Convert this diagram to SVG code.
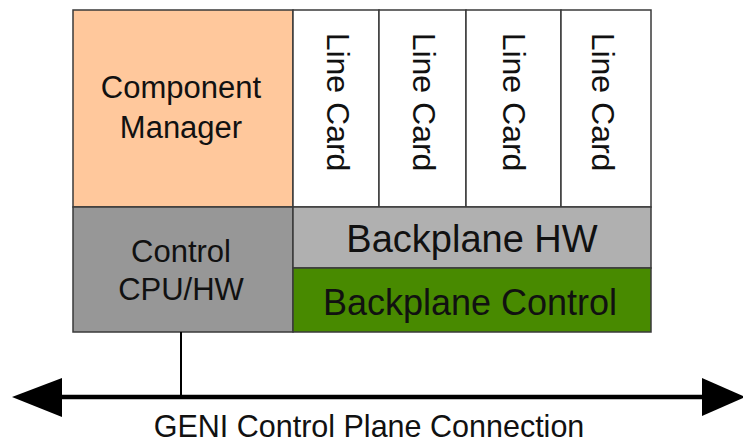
<svg xmlns="http://www.w3.org/2000/svg" width="743" height="445" viewBox="0 0 743 445">
  <style>
    .box { stroke: #3a3a3a; stroke-width: 1.5; }
    .t { font-family: "Liberation Sans", Arial, sans-serif; fill: #111; text-anchor: middle; }
    .lc { font-size: 32px; }
    .conn { stroke: #000; fill: none; }
  </style>
  <rect width="743" height="445" fill="#ffffff"/>
  <g id="component-manager">
    <rect class="box" x="73" y="10" width="220" height="197" fill="#ffc89c"/>
    <text class="t" x="181" y="98" font-size="31">Component</text>
    <text class="t" x="181" y="138" font-size="31">Manager</text>
  </g>
  <g id="line-card-1">
    <rect class="box" x="293" y="10" width="86" height="197" fill="#ffffff"/>
    <text class="t lc" transform="translate(327,102) rotate(90)">Line Card</text>
  </g>
  <g id="line-card-2">
    <rect class="box" x="379" y="10" width="87" height="197" fill="#ffffff"/>
    <text class="t lc" transform="translate(413,102) rotate(90)">Line Card</text>
  </g>
  <g id="line-card-3">
    <rect class="box" x="466" y="10" width="95" height="197" fill="#ffffff"/>
    <text class="t lc" transform="translate(503,102) rotate(90)">Line Card</text>
  </g>
  <g id="line-card-4">
    <rect class="box" x="561" y="10" width="90" height="197" fill="#ffffff"/>
    <text class="t lc" transform="translate(592,102) rotate(90)">Line Card</text>
  </g>
  <g id="control-cpu-hw">
    <rect class="box" x="73" y="207" width="220" height="125" fill="#979797"/>
    <text class="t" x="181" y="262" font-size="31">Control</text>
    <text class="t" x="181" y="300" font-size="31">CPU/HW</text>
  </g>
  <g id="backplane-hw">
    <rect class="box" x="293" y="207" width="358" height="61" fill="#b0b0b0"/>
    <text class="t" x="472" y="252" font-size="38">Backplane HW</text>
  </g>
  <g id="backplane-control">
    <rect class="box" x="293" y="268" width="358" height="64" fill="#488a00"/>
    <text class="t" x="470" y="315" font-size="36">Backplane Control</text>
  </g>
  <g id="connectors">
    <line class="conn" x1="181" y1="332" x2="181" y2="397" stroke-width="2"/>
    <line class="conn" x1="55" y1="397" x2="710" y2="397" stroke-width="4.5"/>
    <polygon points="12,397 62,378 62,417" fill="#000"/>
    <polygon points="745,397 702,378 702,416" fill="#000"/>
  </g>
  <g id="caption">
    <text class="t" x="369" y="437" font-size="30.5">GENI Control Plane Connection</text>
  </g>
</svg>
